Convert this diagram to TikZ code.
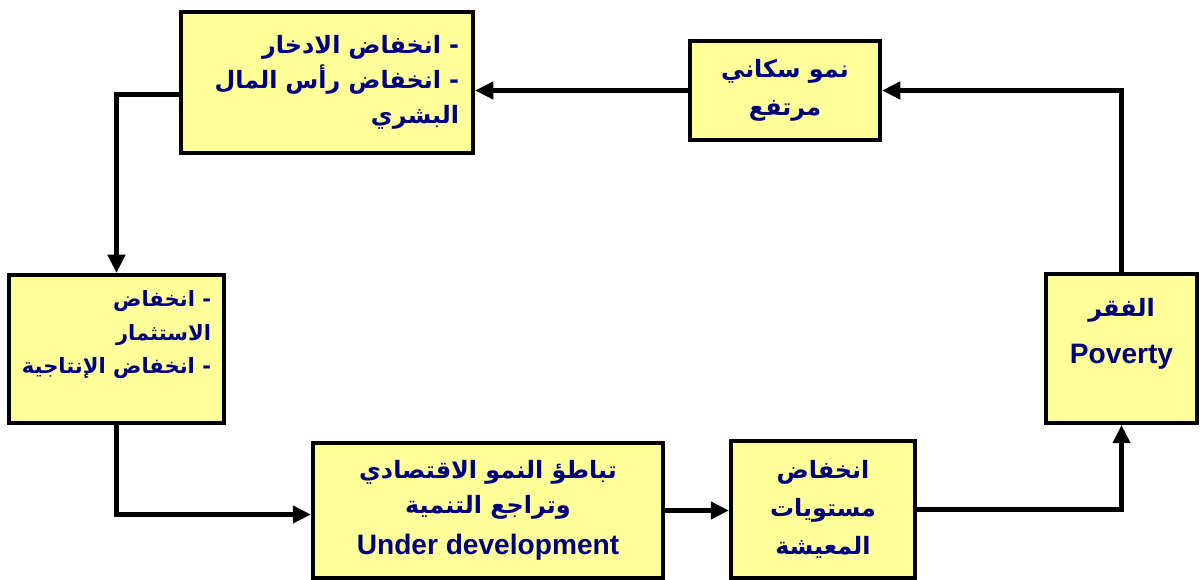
\documentclass[tikz,border=0pt]{standalone}
\usepackage{fontspec}
\setmainfont{Liberation Sans}
\newfontfamily\arabicfont[Script=Arabic]{DejaVu Sans}
\TeXXeTstate=1
\usetikzlibrary{arrows.meta}
\definecolor{boxyellow}{HTML}{FFFF99}
\definecolor{textnavy}{HTML}{000080}
\tikzset{
	box/.style={draw=black, line width=2.8pt, fill=boxyellow, text=textnavy, font=\arabicfont\bfseries\fontsize{17}{25}\selectfont, inner sep=4pt},
	flow/.style={line width=3.6pt, -{Triangle[length=13pt,width=12pt]}}
}
\newcommand{\ar}[1]{\beginR #1\endR}
\newcommand{\en}[1]{{\rmfamily\fontsize{20}{25}\selectfont #1}}

\begin{document}
\begin{tikzpicture}
			%%%%% START %%%%%
			\useasboundingbox (0, 0) rectangle (30, 14.5);
			
			\node[box, minimum width=7.3cm, minimum height=3.525cm, text width=6.6cm, align=right] (savings) at (8.175, 12.4375) {\ar{- انخفاض الادخار}\\ \ar{- انخفاض رأس المال}\\ \ar{البشري}};
			\node[box, minimum width=4.75cm, minimum height=2.475cm, align=center] (population) at (19.625, 12.2375) {\ar{نمو سكاني}\\[2pt] \ar{مرتفع}};
			
			\node[box, minimum width=5.375cm, minimum height=3.7cm, align=right, font=\arabicfont\bfseries\fontsize{15}{24}\selectfont] (investment) at (2.9125, 5.775) {\ar{- انخفاض}\\ \ar{الاستثمار}\\ \ar{- انخفاض الإنتاجية}\\ \mbox{}};
			\node[box, minimum width=3.775cm, minimum height=3.725cm, align=center] (poverty) at (28.0375, 5.7875) {\ar{الفقر}\\[8pt] \en{Poverty}\\ \mbox{}};
			
			\node[box, minimum width=8.75cm, minimum height=3.375cm, align=center] (underdev) at (12.2, 1.7375) {\ar{تباطؤ النمو الاقتصادي}\\ \ar{وتراجع التنمية}\\[4pt] \en{Under development}};
			\node[box, minimum width=4.6cm, minimum height=3.425cm, align=center] (living) at (20.575, 1.7625) {\ar{انخفاض}\\[2pt] \ar{مستويات}\\[2pt] \ar{المعيشة}};
			
			\draw[flow] (poverty.north) |- (population.east);
			\draw[flow] (population.west) -- (population.west -| savings.east);
			\draw[flow] ([yshift=-0.3cm]savings.west) -| (investment.north);
			\draw[flow] (investment.south) |- ([yshift=-0.1cm]underdev.west);
			\draw[flow] (underdev.east) -- (underdev.east -| living.west);
			\draw[flow] (living.east) -| (poverty.south);
			
			%%%%% END %%%%%
		\end{tikzpicture}
\end{document}
